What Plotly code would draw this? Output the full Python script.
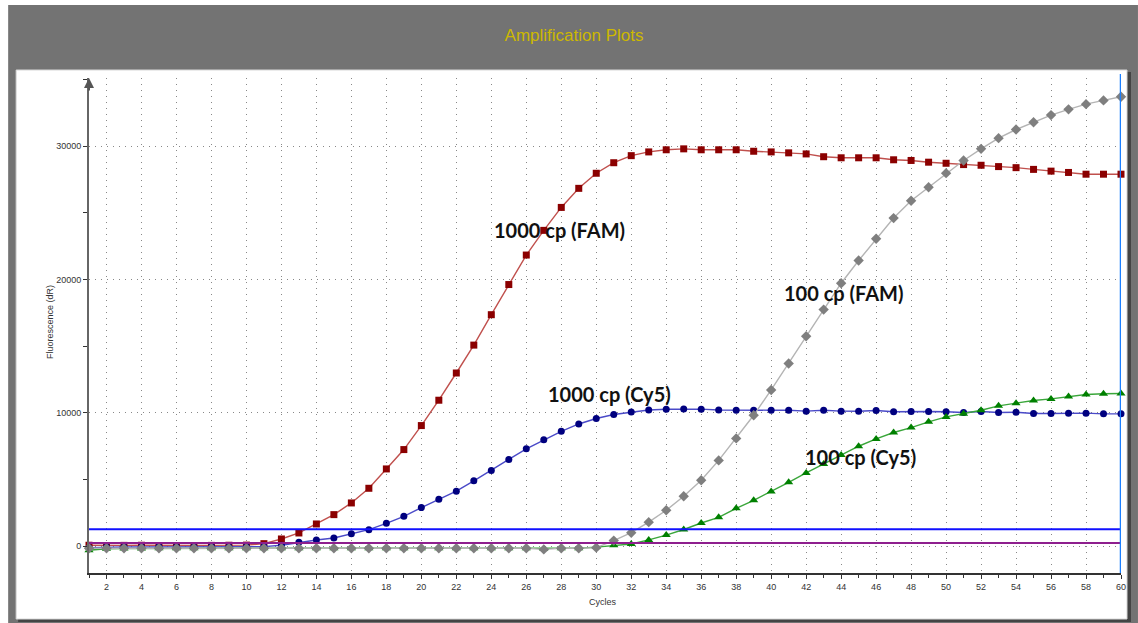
import plotly.graph_objects as go

# ---------------- data ----------------
cycles = list(range(1, 61))

fam_1000 = [80, 60, 70, 80, 60, 50, 60, 70, 80, 90,
            200, 550, 1000, 1675, 2375, 3250, 4350, 5800, 7250, 9050,
            10950, 12990, 15080, 17360, 19620, 21830, 23680, 25400, 26830, 27960,
            28750, 29280, 29560, 29720, 29790, 29720, 29720, 29720, 29610, 29560,
            29490, 29410, 29200, 29120, 29120, 29120, 28970, 28920, 28790, 28710,
            28610, 28560, 28460, 28380, 28250, 28120, 28020, 27890, 27890, 27890]

cy5_1000 = [-100, -60, -50, -50, -40, -50, -50, -40, -50, -30,
            -20, 75, 300, 475, 625, 950, 1250, 1720, 2250, 2900,
            3530, 4130, 4910, 5680, 6510, 7310, 7990, 8620, 9170, 9580,
            9880, 10060, 10220, 10270, 10300, 10280, 10220, 10200, 10200, 10200,
            10200, 10130, 10200, 10130, 10120, 10180, 10080, 10100, 10100, 10080,
            10030, 10100, 10030, 10050, 9950, 9950, 9980, 9980, 9930, 9930]

fam_100 = [-150, -150, -150, -150, -150, -150, -150, -150, -150, -150,
           -150, -150, -150, -150, -150, -150, -150, -150, -150, -150,
           -150, -150, -150, -150, -150, -150, -230, -150, -150, -100,
           430, 1020, 1810, 2700, 3750, 4950, 6440, 8090, 9820, 11720,
           13700, 15740, 17740, 19720, 21420, 23050, 24600, 25900, 26910, 27970,
           28920, 29790, 30590, 31240, 31780, 32320, 32750, 33140, 33420, 33700]

cy5_100 = [-300, -180, -170, -160, -150, -150, -150, -150, -150, -150,
           -150, -150, -150, -150, -150, -150, -150, -150, -150, -150,
           -150, -150, -150, -150, -150, -150, -180, -150, -150, -60,
           80, 170, 480, 840, 1260, 1750, 2170, 2850, 3450, 4100,
           4800, 5500, 6170, 6850, 7500, 8050, 8530, 8900, 9330, 9700,
           9930, 10200, 10530, 10730, 10930, 11050, 11230, 11380, 11430, 11450]

threshold_high = 1270
threshold_low = 250
x_ticks_major = 2
y_tick_step = 10000

labels = ["1000 cp (FAM)", "1000 cp (Cy5)", "100 cp (FAM)", "100 cp (Cy5)"]

# ---------------- layout geometry ----------------
W, H = 1138, 623
ML, MR, MT, MB = 89, 15, 78, 50
PW = W - ML - MR
PH = H - MT - MB


def px_x(p):
    return (p - ML) / PW


def px_y(p):
    return (H - MB - p) / PH


fig = go.Figure()

series = [
    (fam_1000, "#c0504d", "#8b0000", "square", 7),
    (cy5_1000, "#4a4ac8", "#00007f", "circle", 7),
    (cy5_100, "#3aa63a", "#008000", "triangle-up", 8),
    (fam_100, "#b4b4b4", "#7f7f7f", "diamond", 8),
]
for vals, lc, mc, sym, ms in series:
    fig.add_trace(go.Scatter(
        x=cycles, y=vals, mode="lines+markers",
        line=dict(color=lc, width=1.4),
        marker=dict(color=mc, symbol=sym, size=ms, line=dict(width=0)),
        cliponaxis=False, hoverinfo="x+y",
    ))

# threshold lines
fig.add_trace(go.Scatter(x=[cycles[0], cycles[-1]], y=[threshold_high, threshold_high],
                         mode="lines", line=dict(color="#1010ff", width=2), hoverinfo="skip"))
fig.add_trace(go.Scatter(x=[cycles[0], cycles[-1]], y=[threshold_low, threshold_low],
                         mode="lines", line=dict(color="#8e1f8e", width=2), hoverinfo="skip"))

shapes = [
    # outer gray frame
    dict(type="rect", xref="paper", yref="paper",
         x0=px_x(8), x1=px_x(1140), y0=px_y(625), y1=px_y(5),
         fillcolor="#737373", line=dict(width=0), layer="below"),
    # dark shadow
    dict(type="rect", xref="paper", yref="paper",
         x0=px_x(18), x1=px_x(1133), y0=px_y(622), y1=px_y(72),
         fillcolor="#444444", line=dict(width=0), layer="below"),
    # white panel
    dict(type="rect", xref="paper", yref="paper",
         x0=px_x(16), x1=px_x(1129), y0=px_y(619), y1=px_y(70),
         fillcolor="#ffffff", line=dict(color="#d8d8d8", width=1), layer="below"),
    # vertical blue cycle marker
    dict(type="line", xref="x", yref="paper",
         x0=cycles[-1], x1=cycles[-1], y0=0, y1=px_y(74),
         line=dict(color="#1a7fff", width=2.5)),
]

annotations = [
    dict(text="Fluorescence (dR)", xref="paper", yref="paper",
         x=px_x(50), y=px_y(322), xanchor="center", yanchor="middle",
         textangle=-90, showarrow=False,
         font=dict(family="Liberation Sans", size=9, color="#333333")),
    dict(text="Cycles", xref="paper", yref="paper",
         x=px_x(604), y=px_y(602), xanchor="center", yanchor="middle", showarrow=False,
         font=dict(family="Liberation Sans", size=9, color="#333333")),
    # y axis arrow
    dict(text="", x=1, y=35100, xref="x", yref="y", ax=0, ay=14,
         showarrow=True, arrowhead=2, arrowsize=1, arrowwidth=2, arrowcolor="#555555"),
]

label_pos = [(24.05, 23700), (27.1, 11400), (40.6, 19000), (41.8, 6720)]
for txt, (lx, ly) in zip(labels, label_pos):
    annotations.append(dict(text="<b>" + txt + "</b>", x=lx, y=ly, xref="x", yref="y",
                            xanchor="left", yanchor="middle", showarrow=False,
                            font=dict(family="Lato", size=20, color="#111111")))

grid_dash = "1px,5px"

fig.update_layout(
    width=W, height=H,
    margin=dict(l=ML, r=MR, t=MT, b=MB),
    paper_bgcolor="#ffffff",
    plot_bgcolor="rgba(0,0,0,0)",
    showlegend=False,
    title=dict(text="Amplification Plots", x=574 / W, y=1 - 35 / H,
               xanchor="center", yanchor="middle",
               font=dict(family="Liberation Sans", size=17, color="#cdb800")),
    shapes=shapes,
    annotations=annotations,
    xaxis=dict(range=[1, 60], tickmode="linear", tick0=2, dtick=x_ticks_major,
               showgrid=True, gridcolor="#888888", griddash=grid_dash, gridwidth=1.2,
               zeroline=False, showline=True, linecolor="#333333", linewidth=2,
               ticks="outside", ticklen=4, tickcolor="#333333",
               minor=dict(dtick=1, tick0=1, ticks="outside", ticklen=3,
                          tickcolor="#333333", showgrid=False),
               tickfont=dict(family="Liberation Sans", size=9, color="#333333")),
    yaxis=dict(range=[-2000, 35100], tickmode="linear", tick0=0, dtick=y_tick_step,
               tickformat="d",
               showgrid=True, gridcolor="#888888", griddash=grid_dash, gridwidth=1.2,
               zeroline=False, showline=True, linecolor="#666666", linewidth=2,
               ticks="outside", ticklen=4, tickcolor="#333333",
               minor=dict(dtick=5000, ticks="outside", ticklen=4,
                          tickcolor="#333333", showgrid=False),
               tickfont=dict(family="Liberation Sans", size=9, color="#333333")),
)

fig.write_html("out.html", config={"displayModeBar": False},
               post_script="document.body.style.margin='0';document.body.style.overflow='hidden';")
